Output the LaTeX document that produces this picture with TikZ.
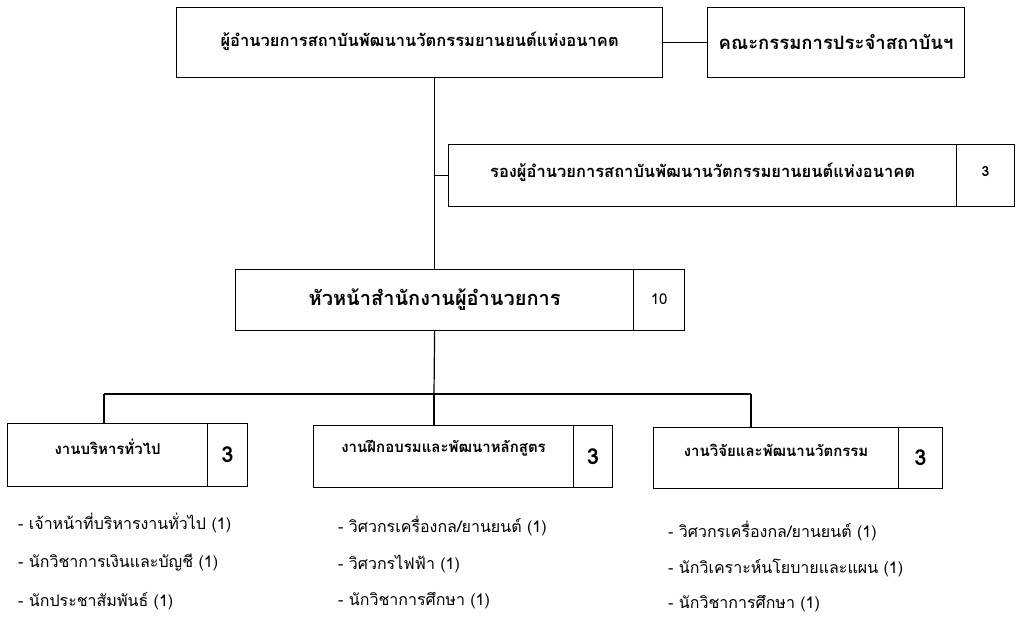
\documentclass[tikz,border=0pt]{standalone}
\usepackage{fontspec}
\setmainfont[Script=Thai]{Loma}
\begin{document}
\begin{tikzpicture}[x=1pt,y=-1pt,
  cell/.style={draw, line width=1.2pt, rectangle, inner sep=0pt, anchor=north west},
  conn/.style={line width=1.2pt},
  ttl/.style={font=\fontsize{16.5}{18}\selectfont\bfseries, inner sep=0pt},
  sub/.style={font=\fontsize{15}{17}\selectfont\bfseries, inner sep=0pt},
  big/.style={font=\fontsize{22}{24}\selectfont\bfseries, inner sep=0pt},
  small/.style={font=\fontsize{14}{16}\selectfont\bfseries, inner sep=0pt},
  item/.style={font=\fontsize{16}{18}\selectfont, inner sep=0pt, anchor=west}
]
\useasboundingbox (0,0) rectangle (1024,619);
% level 0
\node[cell, minimum width=486pt, minimum height=70pt] (T) at (176,7) {};
\node[ttl] (Tt) at ([yshift=1pt]T.center) {ผู้อำนวยการสถาบันพัฒนานวัตกรรมยานยนต์แห่งอนาคต};
\node[cell, minimum width=257pt, minimum height=70pt] (B) at (707,7) {};
\node[ttl, font=\fontsize{18.5}{20}\selectfont\bfseries] (Bt) at ([yshift=1pt]B.center) {คณะกรรมการประจำสถาบันฯ};
% deputy
\node[cell, minimum width=508pt, minimum height=62pt] (D) at (448,144) {};
\node[ttl] (Dt) at ([yshift=3pt]D.center) {รองผู้อำนวยการสถาบันพัฒนานวัตกรรมยานยนต์แห่งอนาคต};
\node[cell, minimum width=58pt, minimum height=62pt] (Dn) at (956,144) {};
\node[small] (Dnt) at ([yshift=4pt]Dn.center) {3};
% head
\node[cell, minimum width=398pt, minimum height=61pt] (H) at (235,269) {};
\node[ttl, font=\fontsize{20}{22}\selectfont\bfseries] (Ht) at ([yshift=1pt]H.center) {หัวหน้าสำนักงานผู้อำนวยการ};
\node[cell, minimum width=51pt, minimum height=61pt] (Hn) at (633,269) {};
\node[small, font=\fontsize{15}{17}\selectfont] (Hnt) at ([yshift=1pt]Hn.center) {10};
% level 3
\node[cell, minimum width=200pt, minimum height=63pt] (L1) at (7,423) {};
\node[sub] (L1t) at ([yshift=8pt]L1.center) {งานบริหารทั่วไป};
\node[cell, minimum width=40pt, minimum height=63pt] (L1n) at (207,423) {};
\node[big] (L1nt) at (L1n.center) {3};
\node[cell, minimum width=260pt, minimum height=62pt] (L2) at (313,425) {};
\node[sub] (L2t) at ([yshift=8pt]L2.center) {งานฝึกอบรมและพัฒนาหลักสูตร};
\node[cell, minimum width=39pt, minimum height=62pt] (L2n) at (573,425) {};
\node[big] (L2nt) at (L2n.center) {3};
\node[cell, minimum width=245pt, minimum height=61pt] (L3) at (653,427) {};
\node[sub] (L3t) at ([yshift=8pt]L3.center) {งานวิจัยและพัฒนานวัตกรรม};
\node[cell, minimum width=44pt, minimum height=61pt] (L3n) at (898,427) {};
\node[big] (L3nt) at (L3n.center) {3};
% connectors
\coordinate (bus) at (434,394);
\coordinate (j1) at (104,394);
\coordinate (j3) at (751,394);
\draw[conn] (T.east) -- (B.west);
\draw[conn] (T.south -| H.north) -- (H.north);
\draw[conn] (D.west) -- (D.west -| H.north);
\draw[conn] (H.south) -- (bus);
\draw[conn] (j1) -- (j3);
\draw[conn] (j1) -- (j1 |- L1.north);
\draw[conn] (bus) -- (bus |- L2.north);
\draw[conn] (j3) -- (j3 |- L3.north);
% lists
\node[item] (a1) at (18,523) {- เจ้าหน้าที่บริหารงานทั่วไป (1)};
\node[item] (a2) at (18,563) {- นักวิชาการเงินและบัญชี (1)};
\node[item] (a3) at (18,601) {- นักประชาสัมพันธ์ (1)};
\node[item] (b1) at (338,526) {- วิศวกรเครื่องกล/ยานยนต์ (1)};
\node[item] (b2) at (338,564) {- วิศวกรไฟฟ้า (1)};
\node[item] (b3) at (338,601) {- นักวิชาการศึกษา (1)};
\node[item] (c1) at (668,531) {- วิศวกรเครื่องกล/ยานยนต์ (1)};
\node[item] (c2) at (668,568) {- นักวิเคราะห์นโยบายและแผน (1)};
\node[item] (c3) at (668,604) {- นักวิชาการศึกษา (1)};
\end{tikzpicture}
\end{document}
